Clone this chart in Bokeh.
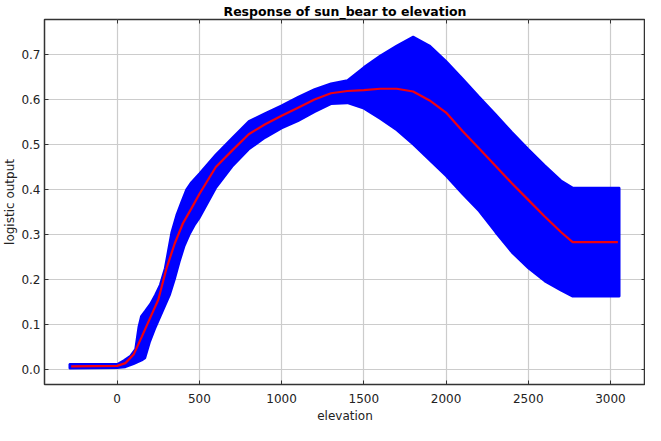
from bokeh.plotting import figure
from bokeh.models import Range1d, LinearAxis, FixedTicker, CustomJSTickFormatter
from bokeh.embed import file_html
from bokeh.resources import INLINE

# Mean response (red line)
mean_x = [-280, 0, 50, 100, 150, 200, 250, 300, 350, 400, 450, 500, 600, 700, 800, 900,
          1000, 1100, 1200, 1300, 1400, 1500, 1600, 1700, 1800, 1900, 2000, 2100, 2200,
          2300, 2400, 2500, 2600, 2700, 2770, 2900, 3045]
mean_y = [0.007, 0.008, 0.014, 0.033, 0.073, 0.114, 0.155, 0.225, 0.280, 0.325, 0.357, 0.390,
          0.450, 0.487, 0.523, 0.545, 0.564, 0.582, 0.600, 0.614, 0.619, 0.621, 0.624, 0.624,
          0.618, 0.598, 0.571, 0.530, 0.492, 0.453, 0.414, 0.377, 0.340, 0.305, 0.283, 0.283, 0.283]

# Upper edge of the +/- sd band
upper_x = [-290, 0, 40, 80, 110, 130, 145, 170, 200, 230, 260, 290, 310, 330, 360, 390, 420,
           450, 500, 600, 700, 800, 900, 1000, 1100, 1200, 1300, 1400, 1500, 1600, 1700, 1800,
           1900, 2000, 2100, 2200, 2300, 2400, 2500, 2600, 2700, 2770, 3055]
upper_y = [0.012, 0.012, 0.020, 0.030, 0.045, 0.095, 0.118, 0.130, 0.145, 0.165, 0.188, 0.225,
           0.265, 0.305, 0.343, 0.372, 0.400, 0.416, 0.436, 0.478, 0.515, 0.552, 0.570, 0.587,
           0.606, 0.623, 0.636, 0.643, 0.672, 0.698, 0.720, 0.740, 0.720, 0.686, 0.647, 0.607,
           0.568, 0.528, 0.490, 0.454, 0.420, 0.404, 0.404]

# Lower edge of the band
lower_x = [-290, 0, 50, 100, 150, 170, 200, 230, 260, 290, 320, 350, 380, 410, 440, 470, 500,
           600, 700, 800, 900, 1000, 1100, 1200, 1300, 1400, 1500, 1600, 1700, 1800, 1900, 2000,
           2100, 2200, 2300, 2400, 2500, 2600, 2700, 2770, 3055]
lower_y = [0.002, 0.003, 0.005, 0.012, 0.020, 0.025, 0.062, 0.090, 0.115, 0.140, 0.165, 0.200,
           0.240, 0.275, 0.300, 0.320, 0.336, 0.403, 0.451, 0.489, 0.515, 0.536, 0.552, 0.572,
           0.590, 0.592, 0.580, 0.557, 0.532, 0.500, 0.465, 0.430, 0.390, 0.352, 0.305, 0.260,
           0.225, 0.196, 0.175, 0.162, 0.162]

x_ticks = [0, 500, 1000, 1500, 2000, 2500, 3000]
y_ticks = [0.0, 0.1, 0.2, 0.3, 0.4, 0.5, 0.6, 0.7]

FONT = "DejaVu Sans"

p = figure(width=645, height=425, output_backend="svg", toolbar_location=None,
           x_range=Range1d(-442, 3213), y_range=Range1d(-0.0335, 0.778),
           title="Response of sun_bear to elevation",
           min_border_left=0, min_border_right=0, min_border_top=0, min_border_bottom=0)

p.title.text_font = FONT
p.title.text_font_size = "12.5px"
p.title.text_font_style = "bold"
p.title.align = "center"
p.title.text_color = "#000000"
p.title.offset = 0
p.title.standoff = 2

p.outline_line_color = "#333333"
p.outline_line_width = 1.5
p.background_fill_color = "white"
p.border_fill_color = "white"

band_xs = upper_x + lower_x[::-1]
band_ys = upper_y + lower_y[::-1]
p.patch(band_xs, band_ys, fill_color="#0000ff", line_color="#0000ff", line_width=2)
p.line(mean_x, mean_y, line_color="#f00010", line_width=2.2)

for ax in p.xaxis + p.yaxis:
    ax.major_tick_in = 4
    ax.major_tick_out = 0
    ax.minor_tick_line_color = None
    ax.axis_line_color = "#333333"
    ax.major_tick_line_color = "#333333"
    ax.major_label_text_font = FONT
    ax.major_label_text_font_size = "12px"
    ax.major_label_text_color = "#222222"
    ax.axis_label_text_font = FONT
    ax.axis_label_text_font_size = "12px"
    ax.axis_label_text_font_style = "normal"
    ax.axis_label_text_color = "#222222"
    ax.major_label_standoff = 4
    ax.axis_label_standoff = 1

p.xaxis.major_label_standoff = 9
p.xaxis.axis_label_standoff = 3

p.xaxis.ticker = FixedTicker(ticks=x_ticks)
p.yaxis.ticker = FixedTicker(ticks=y_ticks)
p.xaxis.axis_label = "elevation"
p.yaxis.axis_label = "logistic output"
p.yaxis.formatter = CustomJSTickFormatter(code="return tick.toFixed(1);")

for loc, ticks in (("above", x_ticks), ("right", y_ticks)):
    ax = LinearAxis(ticker=FixedTicker(ticks=ticks))
    ax.major_tick_in = 4
    ax.major_tick_out = 0
    ax.minor_tick_line_color = None
    ax.axis_line_color = None
    ax.major_tick_line_color = "#333333"
    ax.formatter = CustomJSTickFormatter(code="return '';")
    ax.major_label_standoff = 0
    p.add_layout(ax, loc)

p.xgrid.ticker = FixedTicker(ticks=x_ticks)
p.ygrid.ticker = FixedTicker(ticks=y_ticks)
p.grid.grid_line_color = "#cccccc"
p.grid.grid_line_width = 1.2

open("out.html", "w").write(file_html(p, INLINE))
